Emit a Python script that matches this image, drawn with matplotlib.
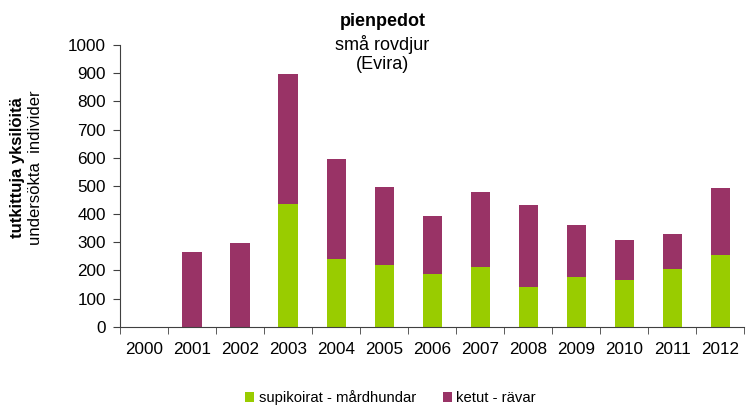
import matplotlib.pyplot as plt
import numpy as np

plt.rcParams['font.family'] = ['Liberation Sans', 'DejaVu Sans']

years = ["2000", "2001", "2002", "2003", "2004", "2005", "2006",
         "2007", "2008", "2009", "2010", "2011", "2012"]
# supikoirat - mårdhundar
raccoon_dogs = [0, 0, 0, 434, 241, 218, 186, 213, 141, 176, 166, 204, 256]
# ketut - rävar (stacked on top)
foxes = [0, 266, 297, 462, 355, 278, 208, 265, 292, 187, 142, 125, 236]

green = "#99CC00"
purple = "#993366"

fig = plt.figure(figsize=(7.47, 4.05), dpi=100)
ax = fig.add_axes([0.1606, 0.193, 0.836, 0.696])

x = np.arange(len(years))
ax.bar(x, raccoon_dogs, width=0.4, color=green, label="supikoirat - mårdhundar")
ax.bar(x, foxes, width=0.4, bottom=raccoon_dogs, color=purple, label="ketut - rävar")

ax.set_xlim(-0.5, len(years) - 0.5)
ax.set_ylim(0, 1000)
ax.set_yticks(range(0, 1001, 100))
ax.tick_params(axis='y', labelsize=12.3, length=5, color="#404040", pad=5)

ax.set_xticks(x)
ax.set_xticklabels(years)
ax.tick_params(axis='x', labelsize=12.3, length=0, pad=11)
ax.set_xticks(np.arange(-0.5, len(years) - 0.4, 1), minor=True)
ax.tick_params(axis='x', which='minor', length=5, color="#404040")

for s in ['top', 'right']:
    ax.spines[s].set_visible(False)
for s in ['left', 'bottom']:
    ax.spines[s].set_color("#404040")

fig.text(0.512, 0.948, "pienpedot", ha='center', va='center', fontsize=13, fontweight='bold')
fig.text(0.512, 0.891, "små rovdjur", ha='center', va='center', fontsize=13)
fig.text(0.512, 0.841, "(Evira)", ha='center', va='center', fontsize=13)

fig.text(0.023, 0.585, "tutkittuja yksilöitä", rotation=90, ha='center', va='center',
         fontsize=12, fontweight='bold')
fig.text(0.047, 0.585, "undersökta  individer", rotation=90, ha='center', va='center',
         fontsize=12)

fig.legend(loc='center', bbox_to_anchor=(0.523, 0.018), ncol=2, frameon=False,
           fontsize=10.7, handlelength=0.6, handleheight=0.6, handletextpad=0.3,
           columnspacing=1.8)

fig.savefig("out.png", dpi=100)
